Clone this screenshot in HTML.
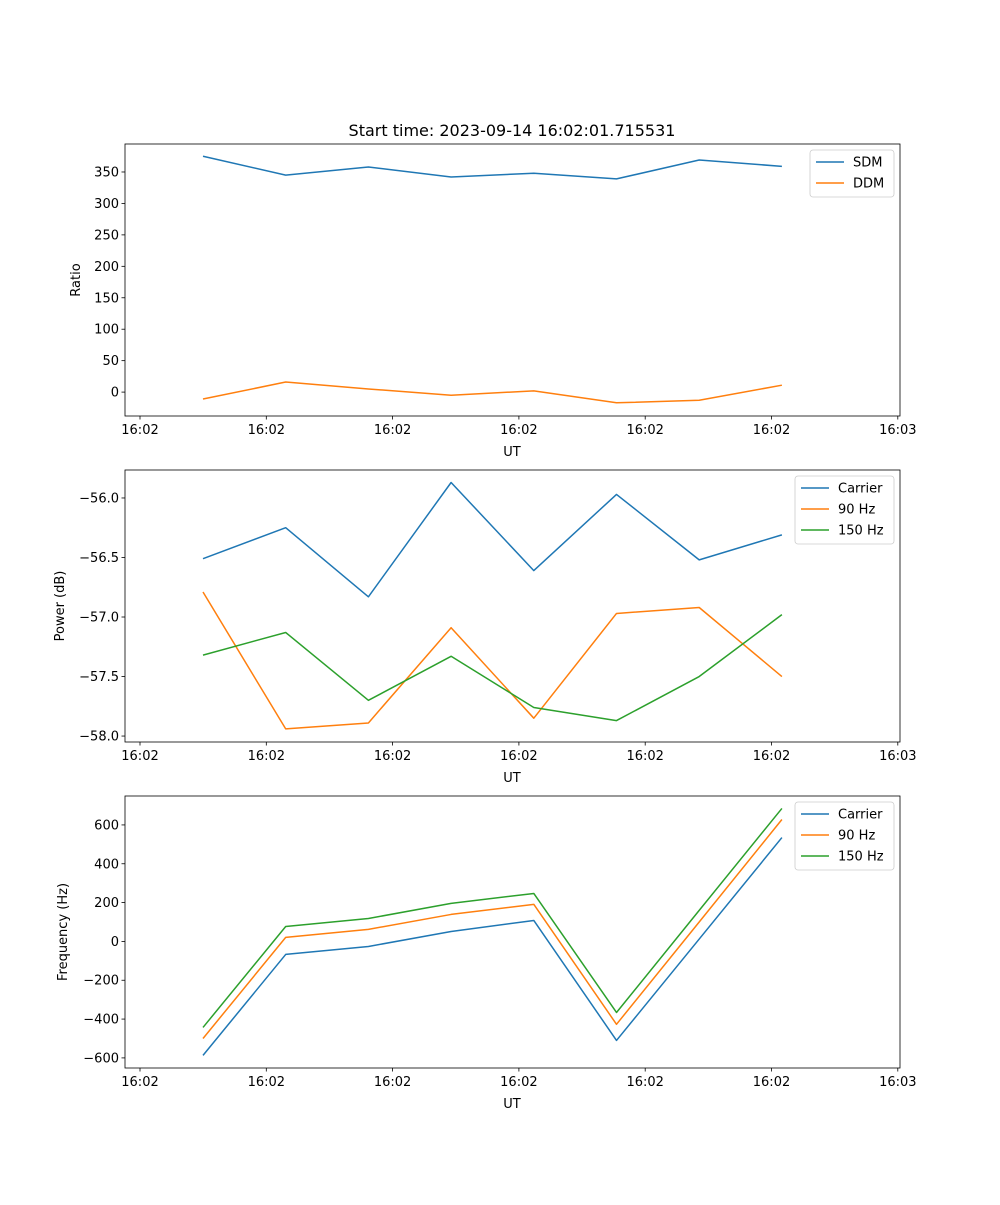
<!DOCTYPE html>
<html><head><meta charset="utf-8"><style>
body{margin:0;background:#fff}
text{font-family:"DejaVu Sans","Liberation Sans",sans-serif;fill:#000}
</style></head><body>
<svg id="fig" width="1000" height="1200" xmlns="http://www.w3.org/2000/svg">
<rect width="1000" height="1200" fill="#fff"/>
<text x="512" y="136" font-size="16" text-anchor="middle">Start time: 2023-09-14 16:02:01.715531</text>
</svg>
<script>
const xTickLabels=["16:02","16:02","16:02","16:02","16:02","16:02","16:03"];
const sdm=[375,345,358,342,348,339,369,359];
const ddm=[-11,16,5,-5,2,-17,-13,11];
const pwrCarrier=[-56.51,-56.25,-56.83,-55.87,-56.61,-55.97,-56.52,-56.31];
const pwr90=[-56.79,-57.94,-57.89,-57.09,-57.85,-56.97,-56.92,-57.50];
const pwr150=[-57.32,-57.13,-57.70,-57.33,-57.76,-57.87,-57.50,-56.98];
const frqCarrier=[-587,-67,-26,51,108,-510,12,535];
const frq90=[-500,21,62,139,191,-427,100,628];
const frq150=[-443,77,118,196,247,-366,160,685];
const ratioTicks=[0,50,100,150,200,250,300,350];
const powerTicks=[-58.0,-57.5,-57.0,-56.5,-56.0];
const freqTicks=[-600,-400,-200,0,200,400,600];

const NS="http://www.w3.org/2000/svg";
const svg=document.getElementById('fig');
function el(tag,attrs,parent){const e=document.createElementNS(NS,tag);for(const k in attrs)e.setAttribute(k,attrs[k]);(parent||svg).appendChild(e);return e;}
const L=125,R=900;
// x: sample index -> px ; ticks index-based positions
const xPt=i=>203+i*82.7;
const xTick=i=>140+i*126.3;
const C=["#1f77b4","#ff7f0e","#2ca02c"];
function panel(name,top,bot,ymin,ymax,ticks,fmt,ylabel,series,names,legend){
  const g=el('g',{});
  
  
  const y=v=>bot-(v-ymin)/(ymax-ymin)*(bot-top);
  ticks.forEach(t=>{
    const yy=y(t);
    el('line',{x1:L-3.5,x2:L,y1:yy,y2:yy,stroke:'#000','stroke-width':0.8},g);
    const tx=el('text',{x:L-6,y:yy+4.5,'font-size':13,'text-anchor':'end'},g);
    tx.textContent=fmt(t);
    
    
  });
  xTickLabels.forEach((lab,i)=>{
    const xx=xTick(i);
    el('line',{x1:xx,x2:xx,y1:bot,y2:bot+3.5,stroke:'#000','stroke-width':0.8},g);
    const tx=el('text',{x:xx,y:bot+18,'font-size':13,'text-anchor':'middle'},g);
    tx.textContent=lab;
    
    
  });
  series.forEach((s,k)=>{
    const p=el('polyline',{points:s.map((v,i)=>xPt(i)+','+y(v)).join(' '),fill:'none',stroke:C[k],'stroke-width':1.5,'stroke-linejoin':'round'},g);
    
    
  });
  el('rect',{x:L,y:top,width:R-L,height:bot-top,fill:'none',stroke:'#000','stroke-width':0.8},g);
  const xl=el('text',{x:512,y:bot+40,'font-size':13,'text-anchor':'middle'},g);
  xl.textContent='UT';
  
  
  const yl=el('text',{x:0,y:0,'font-size':13,'text-anchor':'middle',transform:`translate(${legend.yx},${(top+bot)/2}) rotate(-90)`},g);
  yl.textContent=ylabel;
  
  
  const lg=el('g',{},g);
  
  
  const h=names.length*21+5;
  el('rect',{x:legend.x,y:top+6,width:R-6-legend.x,height:h,rx:3,fill:'#fff',stroke:'#ccc','stroke-width':0.8},lg);
  names.forEach((n,k)=>{
    const yy=top+18+k*21;
    el('line',{x1:legend.x+6,x2:legend.x+34,y1:yy,y2:yy,stroke:C[k],'stroke-width':1.5},lg);
    const t=el('text',{x:legend.x+43,y:yy+4.5,'font-size':13},lg);
    t.textContent=n;
    
    
  });
}
panel('ratio',144,416,-38,394.5,ratioTicks,t=>t.toString().replace('-','\u2212'),'Ratio',[sdm,ddm],['SDM','DDM'],{x:810,yx:80});
panel('power',470,742,-58.05,-55.765,powerTicks,t=>t.toFixed(1).replace('-','\u2212'),'Power (dB)',[pwrCarrier,pwr90,pwr150],['Carrier','90 Hz','150 Hz'],{x:795,yx:64});
panel('frequency',796,1068,-652,749,freqTicks,t=>t.toString().replace('-','\u2212'),'Frequency (Hz)',[frqCarrier,frq90,frq150],['Carrier','90 Hz','150 Hz'],{x:795,yx:67});
</script>
</body></html>
